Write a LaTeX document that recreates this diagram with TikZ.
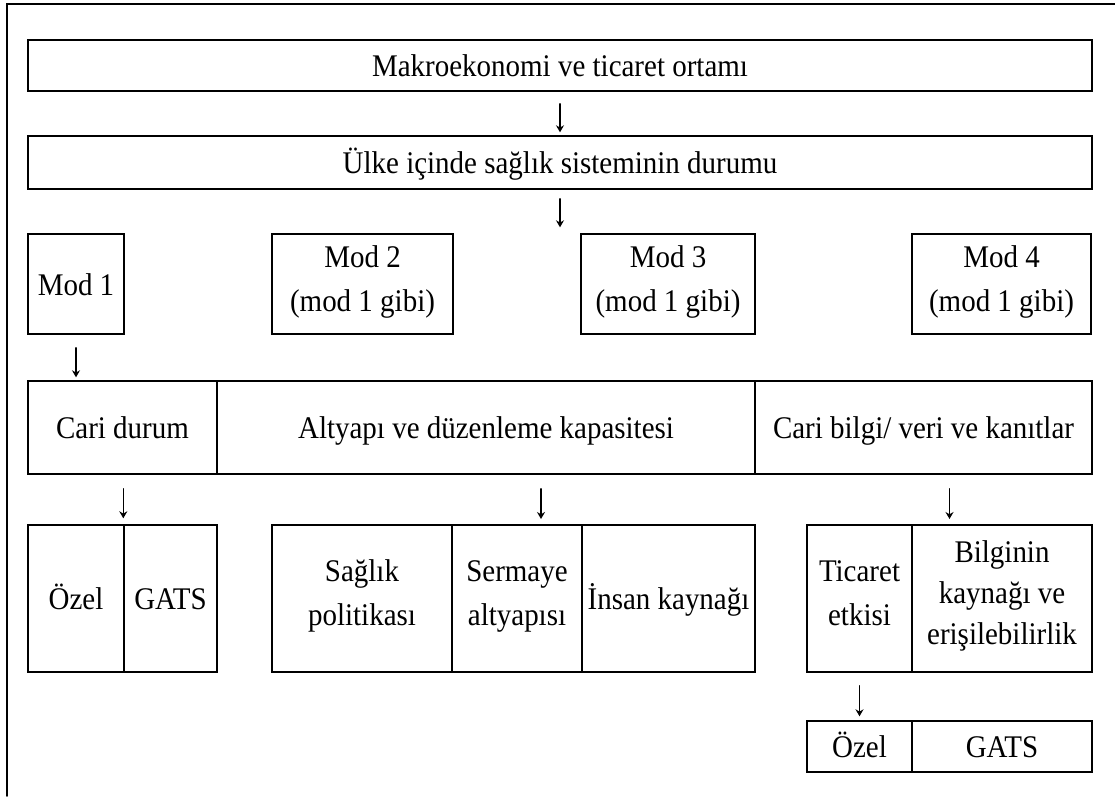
\documentclass[tikz,border=0pt]{standalone}
\usepackage{fontspec}
\setmainfont{Liberation Serif}[FakeStretch=0.92]
\usetikzlibrary{arrows.meta}
\newcommand{\kutustrut}{\rule[-11pt]{0pt}{44pt}}

\begin{document}
\begin{tikzpicture}[line cap=round, x=1pt, y=-1pt,
    kutu/.style={draw, line width=1.4pt, inner sep=0pt, align=center, font=\fontsize{31.5}{44}\selectfont,
      execute at begin node=\kutustrut, execute at end node=\kutustrut},
    ok/.style={->, >={Stealth[length=7pt,width=8pt]}, line width=1.2pt}]
            \useasboundingbox (0,0) rectangle (1115,796);
            \draw[line width=1.6pt] (7,796) -- (7,4) -- (1115,4);   %frame
            \node[kutu, minimum width=1064pt, minimum height=51pt] (makro) at (560,65.5) {Makroekonomi ve ticaret ortamı};
            \node[kutu, minimum width=1064pt, minimum height=53pt] (saglik) at (560,162.5) {Ülke içinde sağlık sisteminin durumu};
            % modlar
            \node[kutu, minimum width=96pt, minimum height=100pt] (mod1) at (76,284) {Mod 1};
            \node[kutu, minimum width=181pt, minimum height=100pt] (mod2) at (362.5,284) {Mod 2\\(mod 1 gibi)};
            \node[kutu, minimum width=174pt, minimum height=100pt] (mod3) at (668,284) {Mod 3\\(mod 1 gibi)};
            \node[kutu, minimum width=179pt, minimum height=100pt] (mod4) at (1001.5,284) {Mod 4\\(mod 1 gibi)};
            % cari durum satiri
            \node[kutu, minimum width=189pt, minimum height=93pt] (cari) at (122.5,427.5) {Cari durum};
            \node[kutu, minimum width=538pt, minimum height=93pt] (altyapi) at (486,427.5) {Altyapı ve düzenleme kapasitesi};
            \node[kutu, minimum width=337pt, minimum height=93pt] (bilgi) at (923.5,427.5) {Cari bilgi/ veri ve kanıtlar};
            % alt satir
            \node[kutu, minimum width=96pt, minimum height=147pt] (ozel) at (76,598.5) {Özel};
            \node[kutu, minimum width=93pt, minimum height=147pt] (gats) at (170.5,598.5) {GATS};
            \node[kutu, minimum width=180pt, minimum height=147pt] (spol) at (362,598.5) {Sağlık\\politikası};
            \node[kutu, minimum width=130pt, minimum height=147pt] (sermaye) at (517,598.5) {Sermaye\\altyapısı};
            \node[kutu, minimum width=173pt, minimum height=147pt] (insan) at (668.5,598.5) {İnsan kaynağı};
            \node[kutu, minimum width=105pt, minimum height=147pt] (ticaret) at (859.5,598.5) {Ticaret\\etkisi};
            \node[kutu, minimum width=180pt, minimum height=147pt, font=\fontsize{31.5}{41}\selectfont] (bilgin) at (1002,598.5) {Bilginin\\kaynağı ve\\erişilebilirlik};
            \node[kutu, minimum width=105pt, minimum height=51pt] (ozelb) at (859.5,746.5) {Özel};
            \node[kutu, minimum width=180pt, minimum height=51pt] (gatsb) at (1002,746.5) {GATS};
            % oklar
            \coordinate (o3) at (541,525);
            \coordinate (o4) at (949.5,525);
            \draw[ok, shorten <=12pt, shorten >=3pt] (makro.south) -- (saglik.north);
            \draw[ok, shorten <=9pt, shorten >=6pt] (saglik.south) -- (saglik.south |- mod1.north);
            \draw[ok, shorten <=13pt, shorten >=3pt] (mod1.south) -- (mod1.south |- cari.north);
            \draw[ok, shorten <=14pt, shorten >=6pt] (cari.south -| gats.west) -- (gats.north west);
            \draw[ok, shorten <=14pt, shorten >=6pt] (o3 |- altyapi.south) -- (o3);
            \draw[ok, shorten <=14pt, shorten >=6pt] (o4 |- bilgi.south) -- (o4);
            \draw[ok, shorten <=13pt, shorten >=4pt] (ticaret.south) -- (ozelb.north);
            \end{tikzpicture}
\end{document}
